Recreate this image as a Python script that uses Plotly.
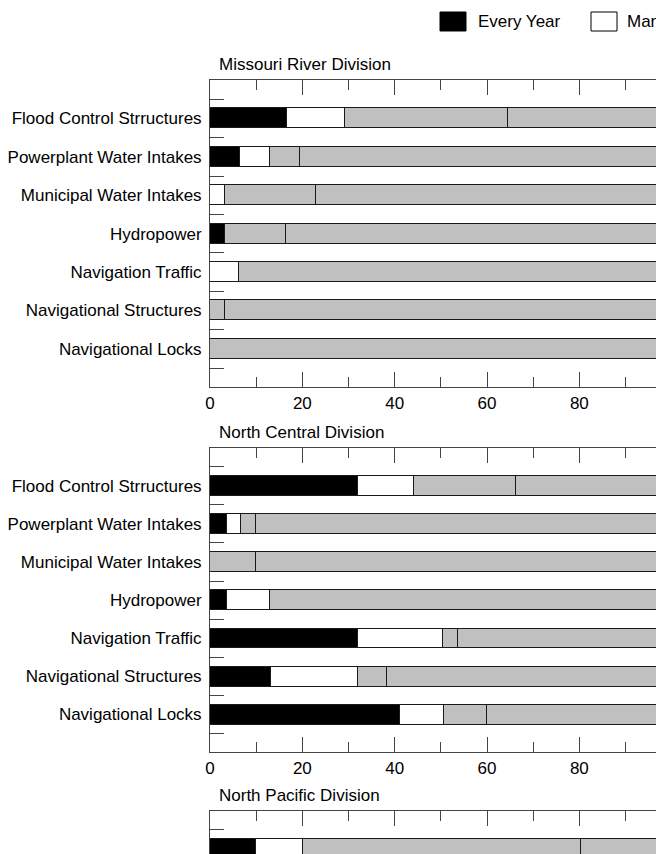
import plotly.graph_objects as go

# Survey categories, listed top to bottom within each division
categories = [
    "Flood Control Strructures",
    "Powerplant Water Intakes",
    "Municipal Water Intakes",
    "Hydropower",
    "Navigation Traffic",
    "Navigational Structures",
    "Navigational Locks",
]

series_names = ["Every Year", "Many Years", "Few Years", "Never"]

# Missouri River Division (percent of responses)
missouri_every = [16.7, 6.4, 0, 3.2, 0, 0, 0]
missouri_many = [12.5, 6.5, 3.3, 0, 6.3, 0, 0]
missouri_few = [35.4, 6.5, 19.7, 13.3, 93.7, 3.2, 100]
missouri_never = [35.4, 80.6, 77.0, 83.5, 0, 96.8, 0]

# North Central Division
central_every = [32.0, 3.6, 0, 3.6, 32.1, 13.2, 41.2]
central_many = [12.2, 3.1, 0, 9.4, 18.4, 18.8, 9.4]
central_few = [22.0, 3.3, 10.0, 87.0, 3.3, 6.3, 9.5]
central_never = [33.8, 90.0, 90.0, 0, 46.2, 61.7, 39.9]

# North Pacific Division
pacific_every = [10.0]
pacific_many = [10.1]
pacific_few = [60.2]
pacific_never = [19.7]

divisions = [
    ("Missouri River Division", [missouri_every, missouri_many, missouri_few, missouri_never]),
    ("North Central Division", [central_every, central_many, central_few, central_never]),
    ("North Pacific Division", [pacific_every, pacific_many, pacific_few, pacific_never]),
]

x_ticks = [0, 20, 40, 60, 80, 100]

W, H = 656, 854
LEFT = 210
FONT = "Liberation Sans, Arial, Helvetica, sans-serif"
fill_colors = ["#000000", "#ffffff", "#c0c0c0", "#c0c0c0"]
AXIS_COLOR = "#444444"

# panel frames in pixels: (top, bottom, px per category)
frames = [(80.0, 387.3, 38.4), (447.7, 752.3, 38.1), (810.7, 854.0, 38.3)]
x_max = (W - LEFT) / 4.617


def py(v):
    return (H - v) / H


def px(v):
    return (v - LEFT) / (W - LEFT)


fig = go.Figure()
layout = dict(
    width=W,
    height=H,
    margin=dict(l=LEFT, r=0, t=0, b=0),
    paper_bgcolor="white",
    plot_bgcolor="white",
    showlegend=False,
    barmode="stack",
    bargap=0,
    font=dict(family=FONT, size=17, color="#000000"),
)

annotations = []
shapes = []

for i, (title, values) in enumerate(divisions):
    n = i + 1
    xa = "x" if n == 1 else f"x{n}"
    ya = "y" if n == 1 else f"y{n}"
    top, bottom, step = frames[i]
    n_rows = len(values[0])
    positions = list(range(1, n_rows + 1))
    for s, (name, vals) in enumerate(zip(series_names, values)):
        fig.add_trace(
            go.Bar(
                x=[v if v > 0 else None for v in vals],
                y=positions,
                orientation="h",
                name=name,
                width=0.52,
                marker=dict(color=fill_colors[s], line=dict(color="#1a1a1a", width=1)),
                xaxis=xa,
                yaxis=ya,
            )
        )

    last = i == len(divisions) - 1
    span = (bottom - top) / step
    xaxis = dict(
        domain=[0, 1],
        anchor=ya,
        range=[0, x_max],
        tickvals=x_ticks,
        ticks="inside",
        ticklen=15,
        tickwidth=1,
        tickcolor=AXIS_COLOR,
        showline=True,
        linecolor=AXIS_COLOR,
        linewidth=1,
        showgrid=False,
        zeroline=False,
        minor=dict(dtick=10, tick0=0, ticks="inside", ticklen=10, tickcolor=AXIS_COLOR, tickwidth=1),
        tickfont=dict(size=17, family=FONT),
    )
    if last:
        xaxis.update(side="top", showticklabels=False, mirror=False)
    else:
        xaxis.update(mirror="ticks", side="bottom")
    yaxis = dict(
        domain=[py(bottom), py(top)],
        anchor=xa,
        range=[span, 0],
        tickvals=positions,
        ticktext=categories[:n_rows],
        ticks="",
        showline=True,
        linecolor=AXIS_COLOR,
        linewidth=1,
        showgrid=False,
        zeroline=False,
        ticklabelstandoff=4,
        minor=dict(tickvals=[p - 0.5 for p in positions] + [n_rows + 0.5], ticks="inside",
                   ticklen=14, tickcolor=AXIS_COLOR, tickwidth=1),
        tickfont=dict(size=17, family=FONT),
    )
    layout["xaxis" if n == 1 else f"xaxis{n}"] = xaxis
    layout["yaxis" if n == 1 else f"yaxis{n}"] = yaxis

    annotations.append(dict(
        text=title, xref="paper", yref="paper", x=px(217), y=py(top - 15),
        xanchor="left", yanchor="middle", showarrow=False,
        font=dict(size=17, family=FONT),
    ))

# legend drawn as swatches and labels across the top
legend_items = [("Every Year", "#000000", 440, 476), ("Many Years", "#ffffff", 591, 625)]
for label, color, x0, tx in legend_items:
    shapes.append(dict(
        type="rect", xref="paper", yref="paper",
        x0=px(x0), x1=px(x0 + 26), y0=py(31), y1=py(12),
        fillcolor=color, line=dict(color="#000000", width=1),
    ))
    annotations.append(dict(
        text=label, xref="paper", yref="paper", x=px(tx), y=py(21.5),
        xanchor="left", yanchor="middle", showarrow=False,
        font=dict(size=17, family=FONT),
    ))

layout["annotations"] = annotations
layout["shapes"] = shapes
fig.update_layout(**layout)
fig.write_html("out.html", config={"displayModeBar": False})
